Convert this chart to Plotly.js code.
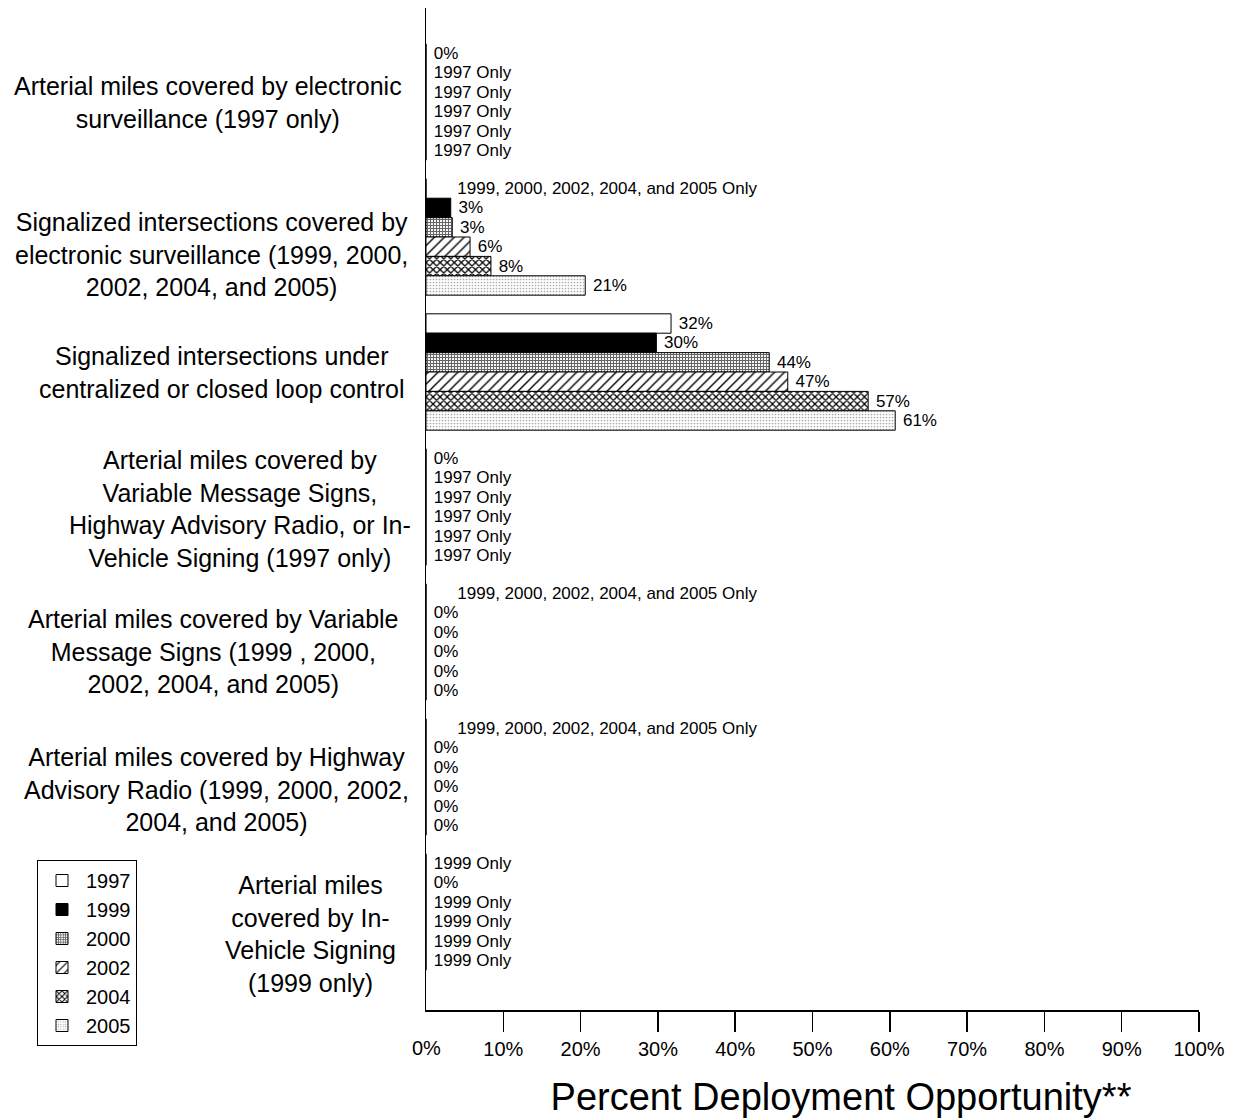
<!DOCTYPE html>
<html>
<head>
<meta charset="utf-8">
<script src="https://cdn.plot.ly/plotly-3.0.1.min.js"></script>
<style>html,body{margin:0;padding:0;background:#fff;}#chart{width:1239px;height:1118px;}</style>
</head>
<body>
<div id="chart"></div>
<script>
const categories = [
  'Arterial miles covered by electronic<br>surveillance (1997 only)',
  'Signalized intersections covered by<br>electronic surveillance (1999, 2000,<br>2002, 2004, and 2005)',
  'Signalized intersections under<br>centralized or closed loop control',
  'Arterial miles covered by<br>Variable Message Signs,<br>Highway Advisory Radio, or In-<br>Vehicle Signing (1997 only)',
  'Arterial miles covered by Variable<br>Message Signs (1999 , 2000,<br>2002, 2004, and 2005)',
  'Arterial miles covered by Highway<br>Advisory Radio (1999, 2000, 2002,<br>2004, and 2005)',
  'Arterial miles<br>covered by In-<br>Vehicle Signing<br>(1999 only)'
];
const years = ['1997', '1999', '2000', '2002', '2004', '2005'];

const v1997 = [0, 0, 31.7, 0, 0, 0, 0];
const v1999 = [0, 3.2, 29.8, 0, 0, 0, 0];
const v2000 = [0, 3.4, 44.4, 0, 0, 0, 0];
const v2002 = [0, 5.7, 46.8, 0, 0, 0, 0];
const v2004 = [0, 8.4, 57.2, 0, 0, 0, 0];
const v2005 = [0, 20.6, 60.7, 0, 0, 0, 0];

const t1997 = ['0%', '1999, 2000, 2002, 2004, and 2005 Only', '32%', '0%', '1999, 2000, 2002, 2004, and 2005 Only', '1999, 2000, 2002, 2004, and 2005 Only', '1999 Only'];
const t1999 = ['1997 Only', '3%', '30%', '1997 Only', '0%', '0%', '0%'];
const t2000 = ['1997 Only', '3%', '44%', '1997 Only', '0%', '0%', '1999 Only'];
const t2002 = ['1997 Only', '6%', '47%', '1997 Only', '0%', '0%', '1999 Only'];
const t2004 = ['1997 Only', '8%', '57%', '1997 Only', '0%', '0%', '1999 Only'];
const t2005 = ['1997 Only', '21%', '61%', '1997 Only', '0%', '0%', '1999 Only'];

const tickVals = [0, 10, 20, 30, 40, 50, 60, 70, 80, 90, 100];
const tickText = ['0%', '10%', '20%', '30%', '40%', '50%', '60%', '70%', '80%', '90%', '100%'];

const values = [v1997, v1999, v2000, v2002, v2004, v2005];
const texts = [t1997, t1999, t2000, t2002, t2004, t2005];

// styles
const FONT = '"Liberation Sans", Arial, Helvetica, sans-serif';
const NB = '\u00a0';
const markers = [
  {color: '#ffffff', line: {color: '#000', width: 1}},
  {color: '#000000', line: {color: '#000', width: 1}},
  {color: '#ffffff', line: {color: '#000', width: 1}, pattern: {shape: '+', size: 3, solidity: 0.6, fgcolor: '#666', bgcolor: '#fff'}},
  {color: '#ffffff', line: {color: '#000', width: 1}, pattern: {shape: '/', size: 7, solidity: 0.2, fgcolor: '#000', bgcolor: '#fff'}},
  {color: '#ffffff', line: {color: '#000', width: 1}, pattern: {shape: 'x', size: 5, solidity: 0.45, fgcolor: '#000', bgcolor: '#fff'}},
  {color: '#ffffff', line: {color: '#000', width: 1}, pattern: {shape: '.', size: 3, solidity: 0.25, fgcolor: '#aaa', bgcolor: '#fff'}}
];

// text padding: long "Only" notes sit further right in the original
const templ = arr => arr.map(t => (t.length > 20 ? NB.repeat(6) : NB) + '%{text}');

const traces = years.map((yr, i) => ({
  type: 'bar',
  orientation: 'h',
  name: yr,
  y: categories,
  x: values[i],
  text: texts[i],
  texttemplate: templ(texts[i]),
  textposition: 'outside',
  constraintext: 'none',
  cliponaxis: false,
  textfont: {family: FONT, size: 17, color: '#000'},
  marker: markers[i],
  hoverinfo: 'skip'
}));

// label positions (category units / paper units)
const labelY = [0.007, 1.133, 2.0, 3.015, 4.074, 5.089, 6.163];
const labelXpx = [208, 211, 222, 240, 213, 216, 310];
const L = 426, R = 1199, T = 8, B = 1010;
const W = R - L, H = B - T;

const annotations = categories.map((c, i) => ({
  text: c,
  xref: 'paper', yref: 'y',
  x: (labelXpx[i] - L) / W,
  y: labelY[i],
  xanchor: 'center', yanchor: 'middle',
  align: 'center',
  showarrow: false,
  font: {family: FONT, size: 25, color: '#000'}
}));
annotations.push({
  text: tickText[0],
  xref: 'x', yref: 'paper',
  x: tickVals[0], y: (B - 1048) / H,
  xanchor: 'center', yanchor: 'middle',
  showarrow: false,
  font: {family: FONT, size: 20, color: '#000'}
});

const layout = {
  width: 1239,
  height: 1118,
  margin: {l: L, r: 1239 - R, t: T, b: 1118 - B},
  paper_bgcolor: '#fff',
  plot_bgcolor: '#fff',
  font: {family: FONT, color: '#000'},
  barmode: 'group',
  bargap: 0.138,
  bargroupgap: 0,
  showlegend: true,
  legend: {
    x: (37 - L) / W, xanchor: 'left',
    y: (B - 860) / H, yanchor: 'top',
    bordercolor: '#000', borderwidth: 1,
    bgcolor: '#fff',
    font: {family: FONT, size: 20, color: '#000'},
    traceorder: 'normal',
    tracegroupgap: 2,
    itemwidth: 38
  },
  title: {
    text: 'Percent Deployment Opportunity**',
    font: {family: FONT, size: 38, color: '#000'},
    xref: 'paper', x: (841 - L) / W, xanchor: 'center',
    yref: 'container', y: 1 - 1097 / 1118, yanchor: 'middle'
  },
  xaxis: {
    range: [0, 100],
    tickvals: tickVals.slice(1),
    ticktext: tickText.slice(1),
    ticks: 'outside', ticklen: 20, tickwidth: 1.5, tickcolor: '#000',
    showline: true, linecolor: '#000', linewidth: 1.5,
    showgrid: false, zeroline: false,
    tickfont: {family: FONT, size: 20, color: '#000'},
    fixedrange: true
  },
  yaxis: {
    type: 'category',
    range: [(B - 102) / 135, (T - 102) / 135],
    showticklabels: false,
    ticks: '',
    showline: true, linecolor: '#000', linewidth: 1.5,
    showgrid: false, zeroline: false,
    fixedrange: true
  },
  annotations: annotations
};

Plotly.newPlot('chart', traces, layout, {displayModeBar: false, staticPlot: true});
</script>
</body>
</html>
